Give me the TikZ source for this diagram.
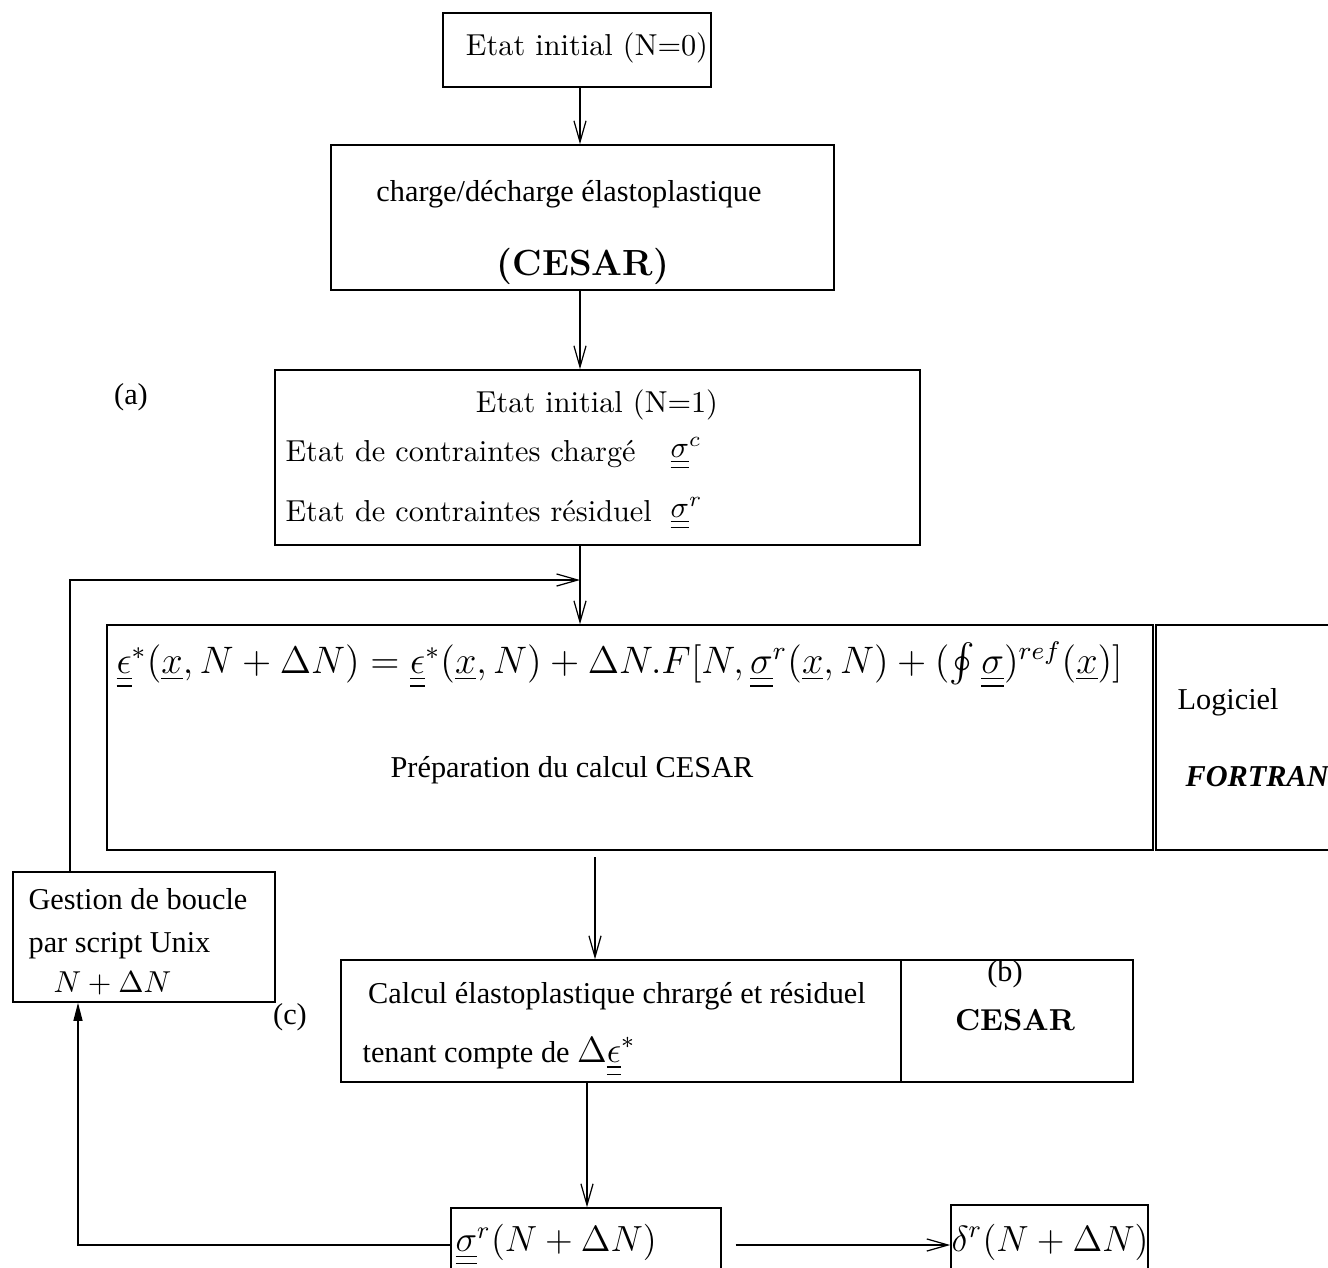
\documentclass[tikz,border=0pt]{standalone}
\usepackage{exscale}
\usepackage{graphicx}
\usepackage{fontspec}
\usetikzlibrary{arrows.meta,calc,fit}
\newfontfamily\tms{Liberation Serif}
\newcommand{\dul}[1]{\underline{\underline{#1}}}
\tikzset{
  cadre/.style={draw,line width=0.5pt,inner sep=0pt},
  fl/.style={line width=0.4pt,-{Straight Barb[length=7pt,width=4pt]}},
  flp/.style={line width=0.4pt,-{Triangle[length=6pt,width=3pt]}},
  txm/.style={inner sep=0pt},
  tx/.style={inner sep=0pt,font=\tms}
}

\begin{document}
\begin{tikzpicture}[x=0.33pt,y=-0.33pt]
  \useasboundingbox (0,0) rectangle (1328,1268);
  \foreach \name/\xa/\ya/\xb/\yb in {init0/443/13/711/87,charge/331/145/834/290,
      init1/275/370/920/545,prep/107/625/1153/850,fortran/1156/625/1345/850,
      gest/13/872/275/1002,calc/341/960/901/1082,cesar/901/960/1133/1082,
      sig/451/1208/721/1290,delta/951/1205/1148/1290}
    \node[cadre,fit={(\xa,\ya) (\xb,\yb)}] (\name) {};

  \node[txm] (t0) at (587,48) {Etat initial (N=0)};
  \node[tx] (t1) at (569,194) {charge/décharge élastoplastique};
  \node[txm,font=\large\bfseries] (t2) at (583,266) {(CESAR)};
  \node[tx] (la) at (131,397) {(a)};
  \node[txm] (t3) at (597,405) {Etat initial (N=1)};
  \node[txm,anchor=base west] (t4) at (285,461) {Etat de contraintes chargé};
  \node[txm,anchor=base west] (t5) at (285,521) {Etat de contraintes résiduel};
  \node[txm,anchor=base west] (s4) at (670,457) {$\dul{\sigma}^c$};
  \node[txm,anchor=base west] (s5) at (670,517) {$\dul{\sigma}^r$};

  \node[txm,anchor=west] (eq) at (116,665) {\resizebox{332pt}{!}{\large
    $\dul{\epsilon}^*(\underline{x},N+\Delta N)=\dul{\epsilon}^*(\underline{x},N)+\Delta N.F[N,\dul{\sigma}^r(\underline{x},N)+(\oint\dul{\sigma})^{ref}(\underline{x})]$}};
  \node[tx] (t6) at (572,770) {Préparation du calcul CESAR};
  \node[tx,anchor=west] (t7) at (1177,702) {Logiciel};
  \node[tx,anchor=west,font=\tms\bfseries\itshape] (t8) at (1185,777) {FORTRAN};

  \node[tx,anchor=base west] (g1) at (28,909) {Gestion de boucle};
  \node[tx,anchor=base west] (g2) at (28,952) {par script Unix};
  \node[txm,anchor=base west] (g3) at (53,992) {$N+\Delta N$};
  \node[tx] (lc) at (290,1017) {(c)};

  \node[tx] (t9) at (617,996) {Calcul élastoplastique chrargé et résiduel};
  \node[tx,anchor=base west] (t10) at (362,1062) {tenant compte de\ {\large$\Delta\dul{\epsilon}^*$}};
  \node[tx] (lb) at (1005,974) {(b)};
  \node[txm,font=\bfseries] (t11) at (1015,1020) {CESAR};
  \node[txm,anchor=west,font=\large] (t12) at (455,1245) {$\dul{\sigma}^r(N+\Delta N)$};
  \node[txm,font=\large] (t13) at (1050,1242) {$\delta^r(N+\Delta N)$};

  \coordinate (ax) at (580,580);
  \coordinate (bx) at (70,580);
  \coordinate (cx) at (595,857);
  \coordinate (dx) at (587,0);
  \coordinate (ex) at (78,1245);
  \draw[fl] (init0.south -| ax) -- (charge.north -| ax);
  \draw[fl] (charge.south -| ax) -- (init1.north -| ax);
  \draw[fl] (init1.south -| ax) -- (prep.north -| ax);
  \draw[fl] (gest.north -| bx) -- (bx) -- (ax);
  \draw[fl] (cx) -- (cx |- calc.north);
  \draw[fl] (calc.south -| dx) -- (sig.north -| dx);
  \draw[flp] (sig.west |- ex) -- (ex) -- (gest.south -| ex);
  \draw[fl] ([xshift=4.6pt]sig.east |- ex) -- (delta.west |- ex);
\end{tikzpicture}
\end{document}
